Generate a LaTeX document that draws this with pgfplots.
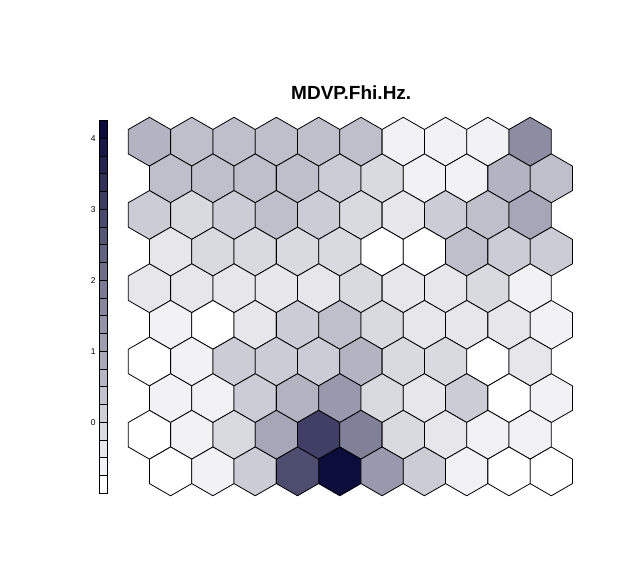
\documentclass[border=0pt]{standalone}
\usepackage{pgfplots}
\pgfplotsset{compat=1.18}
\usepackage{pgfplotstable}
\usepackage{fontspec}
\setmainfont{Liberation Sans}
\pgfdeclareplotmark{hexagon}{%
  \pgfpathmoveto{\pgfqpointpolar{90}{\pgfplotmarksize}}%
  \pgfpathlineto{\pgfqpointpolar{150}{\pgfplotmarksize}}%
  \pgfpathlineto{\pgfqpointpolar{210}{\pgfplotmarksize}}%
  \pgfpathlineto{\pgfqpointpolar{270}{\pgfplotmarksize}}%
  \pgfpathlineto{\pgfqpointpolar{330}{\pgfplotmarksize}}%
  \pgfpathlineto{\pgfqpointpolar{30}{\pgfplotmarksize}}%
  \pgfpathclose
  \pgfusepathqfillstroke}
\pgfdeclareplotmark{cbseg}{%
  \pgfpathrectangle{\pgfqpoint{-4.35pt}{-8.875pt}}{\pgfqpoint{8.7pt}{17.75pt}}%
  \pgfusepathqfillstroke}
% hexagon units: x, y (row from bottom), colour level 0..19
\pgfplotstableread{
x y lev
0 9 6
1 9 5
2 9 5
3 9 5
4 9 5
5 9 5
6 9 1
7 9 1
8 9 1
9 9 9
0.5 8 5
1.5 8 5
2.5 8 5
3.5 8 5
4.5 8 4
5.5 8 3
6.5 8 1
7.5 8 1
8.5 8 6
9.5 8 5
0 7 4
1 7 3
2 7 4
3 7 5
4 7 4
5 7 3
6 7 2
7 7 4
8 7 5
9 7 7
0.5 6 2
1.5 6 3
2.5 6 3
3.5 6 3
4.5 6 3
5.5 6 0
6.5 6 0
7.5 6 5
8.5 6 4
9.5 6 4
0 5 2
1 5 2
2 5 2
3 5 2
4 5 2
5 5 3
6 5 2
7 5 2
8 5 3
9 5 1
0.5 4 1
1.5 4 0
2.5 4 2
3.5 4 4
4.5 4 5
5.5 4 3
6.5 4 2
7.5 4 2
8.5 4 2
9.5 4 1
0 3 0
1 3 1
2 3 4
3 3 4
4 3 4
5 3 6
6 3 3
7 3 3
8 3 0
9 3 2
0.5 2 1
1.5 2 1
2.5 2 4
3.5 2 6
4.5 2 8
5.5 2 3
6.5 2 2
7.5 2 4
8.5 2 0
9.5 2 1
0 1 0
1 1 1
2 1 3
3 1 7
4 1 15
5 1 10
6 1 3
7 1 2
8 1 1
9 1 1
0.5 0 0
1.5 0 1
2.5 0 4
3.5 0 14
4.5 0 19
5.5 0 8
6.5 0 4
7.5 0 1
8.5 0 0
9.5 0 0
}\hexdata
\begin{document}
\begin{tikzpicture}
\useasboundingbox (0,0) rectangle (626pt,575pt);
\begin{axis}[
  at={(107.15pt,67.0pt)}, anchor=south west,
  x=42.3pt, y=36.63pt,
  xmin=-1, xmax=11, ymin=-1, ymax=10,
  hide axis, clip=false,
  colormap={hexmap}{rgb255=(255,255,255) rgb255=(242,242,245) rgb255=(230,230,235) rgb255=(217,217,224) rgb255=(204,204,214) rgb255=(191,191,204) rgb255=(179,179,194) rgb255=(166,166,184) rgb255=(153,153,173) rgb255=(140,140,163) rgb255=(128,128,153) rgb255=(115,115,143) rgb255=(102,102,133) rgb255=(89,89,122) rgb255=(77,77,112) rgb255=(64,64,102) rgb255=(51,51,92) rgb255=(38,38,81) rgb255=(26,26,71) rgb255=(13,13,61)},
  point meta min=0, point meta max=19,
]
\addplot[scatter, only marks, mark=hexagon, mark size=24.42pt,
  scatter/use mapped color={draw=black, fill=mapped color},
  mark options={line width=0.8pt}, point meta=explicit]
  table[x=x, y=y, meta=lev] {\hexdata};
\node[font=\fontsize{19}{22}\selectfont\bfseries] at (axis cs:4.77,9) [yshift=49.2pt] {MDVP.Fhi.Hz.};
\end{axis}
\begin{axis}[
  at={(99pt,81.7pt)}, anchor=south west,
  scale only axis, width=8.7pt, height=372.75pt,
  xmin=0, xmax=1, ymin=-1, ymax=4.25,
  axis lines=left, axis line style={draw=none},
  xtick=\empty, ytick={0,1,2,3,4},
  major tick length=0pt, tick style={draw=none},
  /pgf/number format/assume math mode=true,
  yticklabel style={font=\fontsize{8.5}{10}\selectfont, anchor=east, inner sep=0pt, xshift=-3.3pt},
  clip=false,
  colormap={cbmap}{rgb255=(255,255,255) rgb255=(243,243,245) rgb255=(231,231,236) rgb255=(219,219,226) rgb255=(207,207,216) rgb255=(195,195,207) rgb255=(182,182,197) rgb255=(170,170,187) rgb255=(158,158,177) rgb255=(146,146,168) rgb255=(134,134,158) rgb255=(122,122,148) rgb255=(110,110,139) rgb255=(98,98,129) rgb255=(86,86,119) rgb255=(74,74,110) rgb255=(61,61,100) rgb255=(49,49,90) rgb255=(37,37,80) rgb255=(25,25,71) rgb255=(13,13,61)},
  point meta min=0, point meta max=20,
]
\addplot[scatter, only marks, mark=cbseg,
  scatter/use mapped color={draw=black, fill=mapped color},
  mark options={line width=0.8pt}, point meta=explicit]
  coordinates {
  (0.5,-0.875) [0] (0.5,-0.625) [1] (0.5,-0.375) [2] (0.5,-0.125) [3]
  (0.5,0.125) [4] (0.5,0.375) [5] (0.5,0.625) [6] (0.5,0.875) [7]
  (0.5,1.125) [8] (0.5,1.375) [9] (0.5,1.625) [10] (0.5,1.875) [11]
  (0.5,2.125) [12] (0.5,2.375) [13] (0.5,2.625) [14] (0.5,2.875) [15]
  (0.5,3.125) [16] (0.5,3.375) [17] (0.5,3.625) [18] (0.5,3.875) [19]
  (0.5,4.125) [20]
  };
\end{axis}
\end{tikzpicture}
\end{document}
